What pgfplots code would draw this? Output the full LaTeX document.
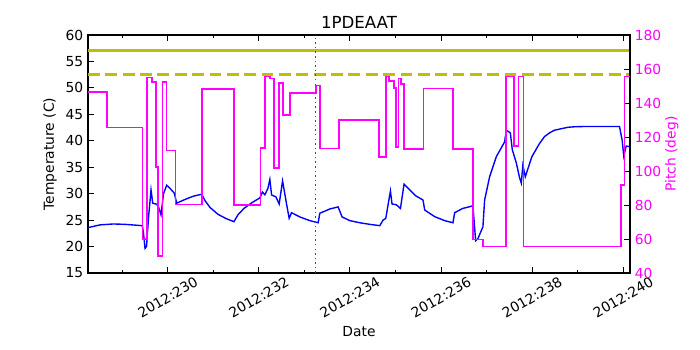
\documentclass[border=0pt]{standalone}
\usepackage{fontspec}
\setmainfont{DejaVu Sans}
\usepackage{pgfplots}
\pgfplotsset{compat=1.18}
\definecolor{mplyellow}{rgb}{0.75,0.75,0}
\definecolor{mplgreen}{rgb}{0,0.5,0}
\definecolor{mplmagenta}{rgb}{1,0,1}

\pgfplotsset{
  base/.style={
    scale only axis, width=390.24bp, height=171.36bp,
    at={(0,0)}, anchor=south west,
    xmin=228.25, xmax=240.15,
    tick align=inside,
    major tick length=4bp, minor tick length=2bp,
    tick style={black, line width=0.6bp},
    axis line style={line width=0.8bp},
    ticklabel style={font=\fontsize{10}{12}\selectfont},
    /pgf/number format/assume math mode=true,
    label style={font=\fontsize{10}{12}\selectfont},
  }
}

\begin{document}
\begin{tikzpicture}
\useasboundingbox (-63.36bp,-55.44bp) rectangle (440.64bp,196.56bp);

% temperature axis
\begin{axis}[base,
    ymin=15, ymax=60, ytick={15,20,...,60}, ytick pos=left,
    xtick={230,232,...,240},
    xticklabels={2012:230,2012:232,2012:234,2012:236,2012:238,2012:240},
    minor xtick={229,231,...,239},
    xticklabel style={anchor=center, yshift=-17.5bp, rotate=30},
    title={1PDEAAT},
    title style={font=\fontsize{12}{14}\selectfont, at={(axis description cs:0.5,1)}, anchor=base, yshift=-1.2bp},
    xlabel={Date},
    xlabel style={at={(axis description cs:0.5,-0.248)}, anchor=center},
    ylabel={Temperature (C)},
    ylabel style={at={(axis description cs:-0.0701,0.5)}, anchor=center},
]
\addplot[blue, line width=1bp] coordinates {
(228.259,23.6)(228.515,24.1)(228.807,24.27)(229.064,24.2)(229.443,23.95)
(229.469,22.5)(229.502,19.67)(229.535,20.0)(229.579,25.5)(229.634,30.7)
(229.671,28.2)(229.759,28.0)(229.798,27.5)(229.853,26.0)(229.908,30.0)
(229.978,31.6)(230.050,31.0)(230.145,30.1)(230.197,28.2)(230.379,28.9)
(230.555,29.5)(230.746,29.9)(230.818,28.7)(230.928,27.4)(231.103,26.1)
(231.279,25.3)(231.454,24.7)(231.542,26.0)(231.673,27.2)(231.849,28.3)
(232.024,29.2)(232.079,30.3)(232.134,29.8)(232.200,31.0)(232.243,32.7)
(232.281,29.75)(232.375,29.4)(232.447,28.05)(232.522,32.4)(232.610,28.0)
(232.667,25.35)(232.719,26.4)(232.901,25.6)(233.121,24.9)(233.303,24.5)
(233.340,26.3)(233.559,27.1)(233.741,27.5)(233.829,25.6)(233.998,24.9)
(234.217,24.5)(234.436,24.2)(234.656,23.95)(234.728,25.0)(234.787,25.3)
(234.890,30.5)(234.925,28.05)(235.022,27.9)(235.110,27.2)(235.189,31.8)
(235.314,30.7)(235.445,29.6)(235.605,28.8)(235.643,26.9)(235.862,25.65)
(236.081,24.9)(236.263,24.5)(236.300,26.4)(236.476,27.2)(236.702,27.7)
(236.761,21.1)(236.811,21.5)(236.921,23.75)(236.958,28.8)(237.068,33.2)
(237.215,37.0)(237.397,39.8)(237.434,42.0)(237.522,41.5)(237.566,38.3)
(237.654,35.8)(237.726,33.0)(237.763,32.0)(237.798,35.4)(237.851,33.2)
(237.996,37.0)(238.164,39.5)(238.274,40.8)(238.384,41.5)(238.493,42.0)
(238.785,42.55)(238.932,42.65)(239.151,42.7)(239.919,42.7)(239.978,40.1)
(240.013,37.1)(240.066,39.0)(240.138,38.9)
};
\addplot[mplyellow, line width=2.2bp] coordinates {(228.25,57)(240.15,57)};
\addplot[mplyellow, line width=2.2bp, dash pattern=on 8.5bp off 4bp] coordinates {(228.25,52.45)(240.15,52.45)};
\addplot[mplgreen, line width=1.1bp, dash pattern=on 1.1bp off 2.2bp] coordinates {(233.25,15)(233.25,60)};
\end{axis}

% pitch axis
\begin{axis}[base,
    axis x line=none, axis y line*=right,
    ymin=40, ymax=180, ytick={40,60,...,180},
    yticklabel style={mplmagenta},
    ylabel={Pitch (deg)},
    ylabel style={at={(axis description cs:1.077,0.5)}, anchor=center, rotate=0, mplmagenta},
]
\addplot[mplmagenta, line width=1.2bp, const plot] coordinates {
(228.25,146.3)(228.662,125.5)(229.443,60)(229.539,155)(229.662,152.5)
(229.743,102.5)(229.794,50)(229.886,152.2)(229.974,112)(230.171,80.2)
(230.746,148.4)(231.454,80)(232.039,113.7)(232.134,155.5)(232.250,154.5)
(232.338,101.6)(232.441,151.6)(232.535,133)(232.682,145.7)(233.252,150.2)
(233.340,113.3)(233.763,130)(234.640,108.4)(234.798,155.5)(234.860,153.1)
(234.969,149)(235.007,114)(235.066,154.5)(235.116,151)(235.182,113)
(235.616,148.6)(236.263,113)(236.706,59.8)(236.921,55.5)(237.434,155.5)
(237.601,114.7)(237.704,155.5)(237.814,55.5)(239.956,91.8)(240.029,155.5)
(240.15,155.5)
};
\end{axis}
\end{tikzpicture}
\end{document}
